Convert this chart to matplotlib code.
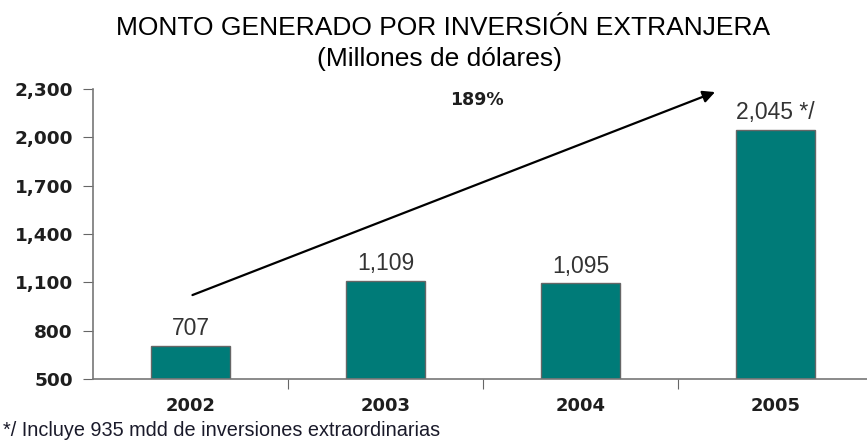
import matplotlib.pyplot as plt

years = ["2002", "2003", "2004", "2005"]
montos = [707, 1109, 1095, 2045]
etiquetas = ["707", "1,109", "1,095", "2,045 */"]
y_ticks = [500, 800, 1100, 1400, 1700, 2000, 2300]
y_tick_labels = ["500", "800", "1,100", "1,400", "1,700", "2,000", "2,300"]

plt.rcParams['font.family'] = ['Liberation Sans', 'DejaVu Sans']
bold_font = dict(family="DejaVu Sans", fontweight="bold", color="#1e1e1e")

fig = plt.figure(figsize=(8.67, 4.47), dpi=100)
ax = fig.add_axes([93 / 867, 1 - 379 / 447, 780 / 867, 290 / 447])

x = range(len(years))
ax.bar(x, [m - 500 for m in montos], bottom=500, width=0.41,
       color="#007b78", edgecolor="#666666", linewidth=1)

for i, (m, lab) in enumerate(zip(montos, etiquetas)):
    ax.text(i, m + 35, lab, ha="center", va="bottom", fontsize=16.5, color="#333333")

ax.set_xlim(-0.5, 3.5)
ax.set_ylim(500, 2300)
ax.set_yticks(y_ticks)
ax.set_yticklabels(y_tick_labels, fontsize=13.3, **bold_font)
ax.set_xticks([0.5, 1.5, 2.5])
ax.set_xticklabels([])
ax.tick_params(axis="x", length=7, color="#666666", direction="out")
ax.tick_params(axis="y", length=7, color="#666666", pad=7.5)
for i, y in enumerate(years):
    ax.text(i, -0.062, y, ha="center", va="top", fontsize=13,
            transform=ax.get_xaxis_transform(), **bold_font)

for s in ["top", "right"]:
    ax.spines[s].set_visible(False)
for s in ["left", "bottom"]:
    ax.spines[s].set_color("#777777")
    ax.spines[s].set_linewidth(1.2)

# flecha de crecimiento
ax.annotate("", xy=(2.69, 2281), xytext=(0.01, 1021),
            arrowprops=dict(arrowstyle="-|>", color="black", lw=1.6,
                            mutation_scale=18, shrinkA=0, shrinkB=0))
ax.text(1.47, 2232, "189%", ha="center", va="center", fontsize=12.5, **bold_font)

fig.text(443 / 867, 1 - 28 / 447, "MONTO GENERADO POR INVERSIÓN EXTRANJERA",
         ha="center", va="center", fontsize=19)
fig.text(440 / 867, 1 - 59 / 447, "(Millones de dólares)",
         ha="center", va="center", fontsize=19)
fig.text(3 / 867, 1 - 431 / 447, "*/ Incluye 935 mdd de inversiones extraordinarias",
         ha="left", va="center", fontsize=14.3, color="#1a1a2a")

fig.savefig("out.png", dpi=100)
